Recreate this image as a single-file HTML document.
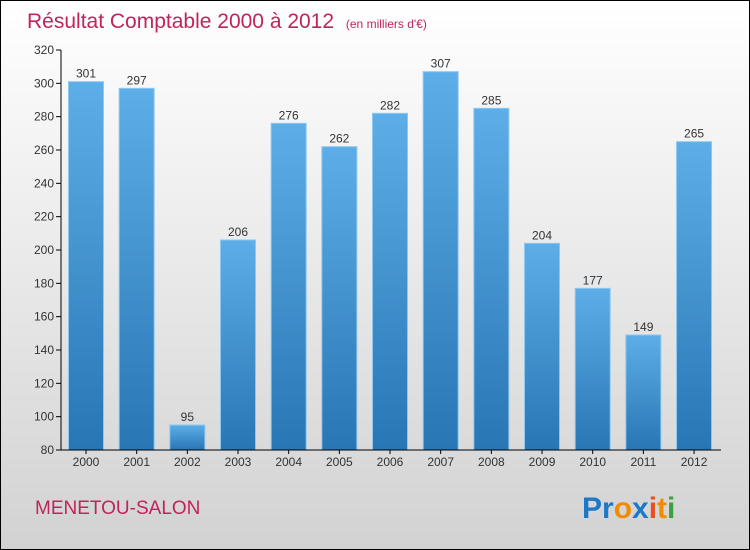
<!DOCTYPE html>
<html><head><meta charset="utf-8"><style>
body{margin:0;width:750px;height:550px;overflow:hidden}
svg{display:block;font-family:"Liberation Sans",sans-serif}
</style></head><body>
<svg id="c" width="750" height="550">
<defs>
<linearGradient id="bg" x1="0" y1="0" x2="0" y2="1"><stop offset="0" stop-color="#ffffff"/><stop offset="1" stop-color="#d2d2d2"/></linearGradient>
<linearGradient id="bar" x1="0" y1="0" x2="0" y2="1"><stop offset="0" stop-color="#5daee8"/><stop offset="1" stop-color="#2876b4"/></linearGradient>
</defs>
<rect x="0.5" y="0.5" width="749" height="549" fill="url(#bg)" stroke="#000"/>
<text x="27" y="28" font-size="21" fill="#c0245c">Résultat Comptable 2000 à 2012 <tspan font-size="12" dx="6">(en milliers d'€)</tspan></text>
<g id="plot"></g>
<text x="35" y="514" font-size="19" fill="#c0245c">MENETOU-SALON</text>
<text x="582" y="518" font-size="30" font-weight="bold"><tspan fill="#1e78c8">Pr</tspan><tspan fill="#f08c00">o</tspan><tspan fill="#1e78c8">x</tspan><tspan fill="#e8501e">i</tspan><tspan fill="#f08c00">t</tspan><tspan fill="#3aa040">i</tspan></text>
</svg>
<script>
const years=["2000","2001","2002","2003","2004","2005","2006","2007","2008","2009","2010","2011","2012"];
const values=[301,297,95,206,276,262,282,307,285,204,177,149,265];
const ticks=[80,100,120,140,160,180,200,220,240,260,280,300,320];
const ns="http://www.w3.org/2000/svg";
const g=document.getElementById('plot');
const y0=450,y1=50,vmin=80,vmax=320;
const y=v=>y0-(v-vmin)/(vmax-vmin)*(y0-y1);
const x=i=>86+i*50.67;
function mk(t,a){const e=document.createElementNS(ns,t);for(const k in a)e.setAttribute(k,a[k]);g.appendChild(e);return e;}
ticks.forEach(t=>{
 const l=mk('line',{x1:56,x2:61,y1:y(t),y2:y(t),stroke:'#000'});
 
 
 const tx=mk('text',{x:54,y:y(t)+4,'font-size':12,'text-anchor':'end',fill:'#333'});tx.textContent=t;
 
 
});
values.forEach((v,i)=>{
 const r=mk('rect',{x:x(i)-17.5,y:y(v),width:35,height:y0-y(v),fill:'url(#bar)',stroke:'#8cc8f0','stroke-width':1});
 
 
 const vt=mk('text',{x:x(i),y:y(v)-4,'font-size':12,'text-anchor':'middle',fill:'#333'});vt.textContent=v;
 
 
 const tl=mk('line',{x1:x(i),x2:x(i),y1:450,y2:454,stroke:'#000'});
 
 
 const xt=mk('text',{x:x(i),y:466,'font-size':12,'text-anchor':'middle',fill:'#333'});xt.textContent=years[i];
 
 
});
const ya=mk('line',{x1:61,x2:61,y1:50,y2:450,stroke:'#000'});


const xa=mk('line',{x1:61,x2:721,y1:450,y2:450,stroke:'#000'});


</script>
</body></html>
